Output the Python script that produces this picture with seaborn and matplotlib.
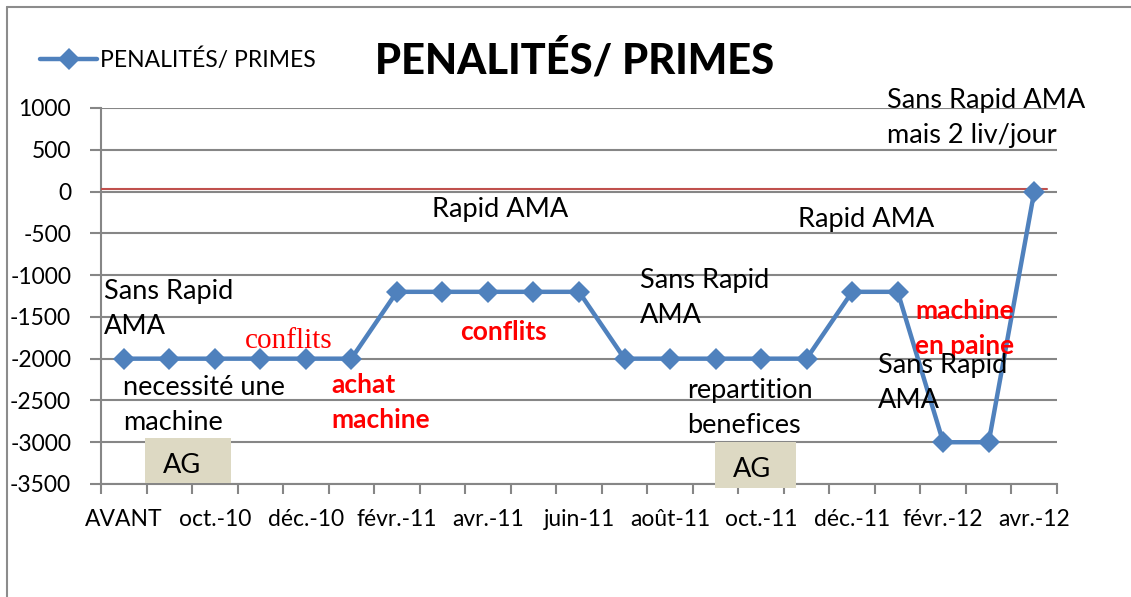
# Graphique des pénalités / primes par mois
import numpy as np
import pandas as pd
import seaborn as sns
import matplotlib.pyplot as plt
from matplotlib.patches import Rectangle
from matplotlib.lines import Line2D

# Données
mois = ['AVANT', 'sept.-10', 'oct.-10', 'nov.-10', 'déc.-10', 'janv.-11',
        'févr.-11', 'mars-11', 'avr.-11', 'mai-11', 'juin-11', 'juil.-11',
        'août-11', 'sept.-11', 'oct.-11', 'nov.-11', 'déc.-11', 'janv.-12',
        'févr.-12', 'mars-12', 'avr.-12']
valeurs = [-2000, -2000, -2000, -2000, -2000, -2000,
           -1200, -1200, -1200, -1200, -1200, -2000,
           -2000, -2000, -2000, -2000, -1200, -1200,
           -3000, -3000, 0]
graduations_y = [1000, 500, 0, -500, -1000, -1500, -2000, -2500, -3000, -3500]
ligne_rouge = 30
titre = 'PENALITÉS/ PRIMES'

# Textes ajoutés sur le graphique : (x, y de la 1re ligne, lignes, couleur, gras, serif, alignement)
notes = [
    (-0.43, -1282, ['Sans Rapid', 'AMA'], 'black', False, False, 'left'),
    (3.63, -1868, ['conflits'], 'red', False, True, 'center'),
    (-0.02, -2429, ['necessité une', 'machine'], 'black', False, False, 'left'),
    (4.55, -2405, ['achat', 'machine'], 'red', True, False, 'left'),
    (6.77, -302, ['Rapid AMA'], 'black', False, False, 'left'),
    (8.35, -1771, ['conflits'], 'red', True, False, 'center'),
    (11.34, -1151, ['Sans Rapid', 'AMA'], 'black', False, False, 'left'),
    (12.37, -2466, ['repartition', 'benefices'], 'black', False, False, 'left'),
    (14.81, -422, ['Rapid AMA'], 'black', False, False, 'left'),
    (17.38, -1521, ['machine', 'en paine'], 'red', True, False, 'left'),
    (16.57, -2166, ['Sans Rapid', 'AMA'], 'black', False, False, 'left'),
    (16.77, 1000, ['Sans Rapid AMA', 'mais 2 liv/jour'], 'black', False, False, 'left'),
]
# Boîtes "AG" : (x0, x1, y0, y1, x texte, y texte)
boites_ag = [
    (0.47, 2.36, -3485, -2946, 1.28, -3373),
    (12.99, 14.77, -3543, -2993, 13.8, -3420),
]
pas_ligne = 420

sns.set_style('white')
plt.rcParams['font.family'] = ['Lato', 'DejaVu Sans']
plt.rcParams['axes.unicode_minus'] = False

fig = plt.figure(figsize=(11.31, 5.97), dpi=100)
ax = fig.add_axes([101 / 1131, 1 - 484 / 597, 956 / 1131, (484 - 108) / 597])

df = pd.DataFrame({'pos': np.arange(len(mois)), 'valeur': valeurs})
sns.lineplot(data=df, x='pos', y='valeur', ax=ax, color='#4F81BD', lw=3.2,
             marker='D', markersize=11, markeredgewidth=0,
             label=titre, zorder=5)

ax.axhline(ligne_rouge, xmin=0, xmax=0.99, color='#C0504D', lw=1.5, zorder=4)

# axes
gris = '#868686'
ax.set_xlim(-0.5, len(mois) - 0.5)
ax.set_ylim(graduations_y[-1], graduations_y[0])
ax.set_yticks(graduations_y)
ax.set_xticks(np.arange(0, len(mois), 2))
ax.set_xticklabels(mois[::2])
ax.set_xticks(np.arange(-0.5, len(mois), 1), minor=True)
ax.grid(axis='y', color=gris, lw=1.5)
ax.set_axisbelow(True)
for s in ['top', 'right']:
    ax.spines[s].set_visible(False)
for s in ['left', 'bottom']:
    ax.spines[s].set_color(gris)
    ax.spines[s].set_linewidth(1.5)
ax.tick_params(axis='y', left=True, length=8, width=1.5, color=gris, pad=13.5,
               labelsize=16.5, labelcolor='black')
ax.tick_params(axis='x', which='major', bottom=True, length=0, pad=18,
               labelsize=16.5, labelcolor='black')
ax.tick_params(axis='x', which='minor', bottom=True, length=7, width=1.5, color=gris)
ax.set_xlabel('')
ax.set_ylabel('')

# textes
for x, y, lignes, couleur, gras, serif, ha in notes:
    for k, ligne in enumerate(lignes):
        kw = dict(color=couleur, ha=ha, va='baseline', fontsize=19.5, zorder=6)
        if gras:
            kw['fontweight'] = 'bold'
            kw['fontsize'] = 19
        if serif:
            kw['family'] = ['Liberation Serif']
            kw['fontsize'] = 21
        ax.text(x, y - k * pas_ligne, ligne, **kw)

for x0, x1, y0, y1, xt, yt in boites_ag:
    ax.add_patch(Rectangle((x0, y0), x1 - x0, y1 - y0, facecolor='#DDD9C3',
                           edgecolor='none', zorder=3, clip_on=False))
    ax.text(xt, yt, 'AG', ha='center', va='baseline', fontsize=19.5, color='black', zorder=6)

# légende et titre
leg = ax.legend(loc='center left', bbox_to_anchor=(40 / 1131, 1 - 60 / 597),
                bbox_transform=fig.transFigure, frameon=False, fontsize=16.5,
                handlelength=2.5, handletextpad=0.1, borderpad=0, borderaxespad=0)
for t in leg.get_texts():
    t.set_color('black')
fig.text(575 / 1131, 1 - 60 / 597, titre, ha='center', va='center',
         fontsize=30, fontweight='black', color='black')

# cadre
fig.add_artist(Line2D([7 / 1131, 7 / 1131], [0, 1 - 7 / 597], transform=fig.transFigure, color='#8c8c8c', lw=1.5))
fig.add_artist(Line2D([7 / 1131, 1], [1 - 7 / 597, 1 - 7 / 597], transform=fig.transFigure, color='#8c8c8c', lw=1.5))

fig.savefig('out.png', dpi=100)
